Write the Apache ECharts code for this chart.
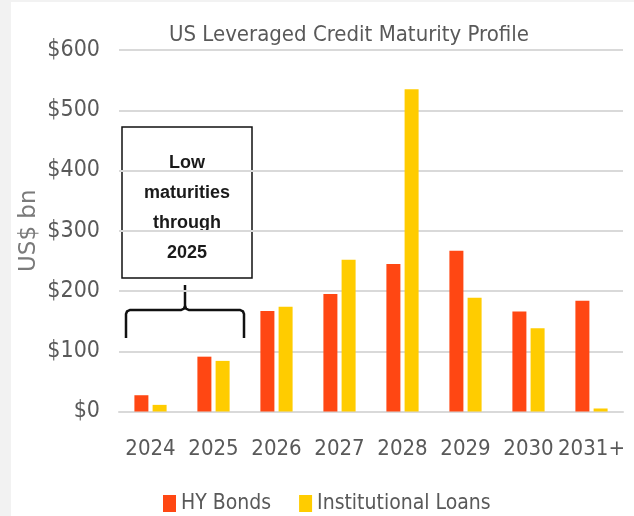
<!DOCTYPE html>
<html>
<head>
<meta charset="utf-8">
<script src="https://cdn.jsdelivr.net/npm/echarts@6/dist/echarts.min.js"></script>
<style>
html, body { margin: 0; padding: 0; background: #f2f2f2; }
#chart { position: absolute; left: 11px; top: 2px; width: 623px; height: 514px; background: #fff; }
</style>
</head>
<body>
<div id="chart"></div>
<script>
const years = ['2024', '2025', '2026', '2027', '2028', '2029', '2030', '2031+']
const hyBonds = [27, 91, 167, 195, 245, 267, 166, 184]
const instLoans = [11, 84, 174, 252, 535, 189, 138, 5]
const yTicks = { min: 0, max: 600, interval: 100 }

const narrow = '"Liberation Sans Narrow", "DejaVu Sans Condensed", sans-serif'
const gray = '#595959'

const chart = echarts.init(document.getElementById('chart'))

const option = {
  animation: false,
  grid: { left: 108, right: 11, top: 48, bottom: 104.5, outerBoundsMode: 'none' },
  legend: {
    left: 152,
    top: 491,
    padding: 0,
    icon: 'rect',
    itemWidth: 13,
    itemHeight: 17,
    itemGap: 28,
    textStyle: { fontFamily: narrow, fontSize: 21, color: gray }
  },
  xAxis: {
    type: 'category',
    data: years,
    axisLine: { lineStyle: { color: '#d9d9d9', width: 2 } },
    axisTick: { show: false },
    axisLabel: { interval: 0, margin: 27, fontFamily: narrow, fontSize: 22, color: gray }
  },
  yAxis: {
    type: 'value',
    min: yTicks.min,
    max: yTicks.max,
    interval: yTicks.interval,
    name: 'US$ bn',
    nameLocation: 'middle',
    nameRotate: 90,
    nameGap: 78,
    nameMoveOverlap: false,
    nameTextStyle: { fontFamily: '"DejaVu Sans", sans-serif', fontSize: 23, color: '#7a7a7a' },
    axisLabel: {
      margin: 19,
      fontFamily: narrow,
      fontSize: 23,
      color: gray,
      formatter: v => '$' + v
    },
    splitLine: { lineStyle: { color: '#d9d9d9', width: 2 } }
  },
  series: [
    {
      name: 'HY Bonds',
      type: 'bar',
      data: hyBonds,
      barWidth: 14,
      barGap: '30%',
      itemStyle: { color: '#ff4713' }
    },
    {
      name: 'Institutional Loans',
      type: 'bar',
      data: instLoans,
      barWidth: 14,
      itemStyle: { color: '#ffcc00' }
    }
  ],
  graphic: [
    {
      type: 'text',
      x: 338,
      y: 33,
      style: {
        text: 'US Leveraged Credit Maturity Profile',
        fontFamily: narrow,
        fontSize: 22,
        fill: gray,
        align: 'center',
        verticalAlign: 'middle'
      }
    },
    {
      type: 'rect',
      shape: { x: 111, y: 125, width: 130, height: 151 },
      style: { fill: '#fff', stroke: '#111', lineWidth: 1.5 }
    },
    {
      type: 'text',
      x: 176,
      y: 206,
      style: {
        text: 'Low\nmaturities\nthrough\n2025',
        fontFamily: '"Liberation Sans", Arial, sans-serif',
        fontWeight: 'bold',
        fontSize: 18,
        lineHeight: 30,
        fill: '#1a1a1a',
        align: 'center',
        verticalAlign: 'middle'
      }
    },
    // the brace under the note box
    {
      type: 'polyline',
      shape: {
        points: [[115, 336], [115, 312], [116, 309.5], [119, 308], [170, 308], [173, 306.5], [174, 304], [174, 283]]
      },
      style: { fill: null, stroke: '#111', lineWidth: 2.5 }
    },
    {
      type: 'polyline',
      shape: {
        points: [[174, 304], [175, 306.5], [178, 308], [229, 308], [232, 309.5], [233, 312], [233, 336]]
      },
      style: { fill: null, stroke: '#111', lineWidth: 2.5 }
    }
  ]
}

chart.setOption(option)
</script>
</body>
</html>
